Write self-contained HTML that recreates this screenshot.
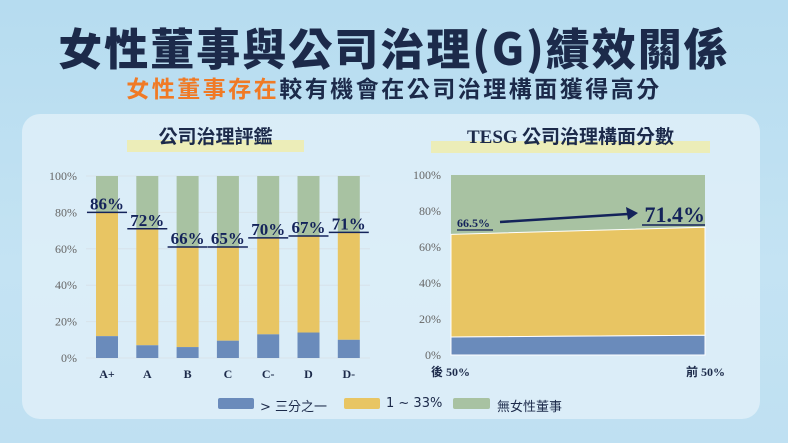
<!DOCTYPE html>
<html><head><meta charset="utf-8"><style>
body{margin:0;width:788px;height:443px;overflow:hidden;background:linear-gradient(180deg,#b6dcf0 0%,#c4e3f3 60%,#bfe0f2 100%);font-family:"Liberation Sans","Noto Sans CJK TC",sans-serif;position:relative}
.abs{position:absolute}
</style></head><body>
<div class="abs" style="left:0;width:788px;top:20px;text-align:center;font-size:44px;font-weight:900;color:#1c2a4a;font-family:'Noto Sans CJK TC',sans-serif;line-height:52px;letter-spacing:2px">女性董事與公司治理(G)績效關係</div>
<div class="abs" style="left:0;width:788px;top:71px;text-align:center;font-size:23px;font-weight:700;color:#1c2a4a;font-family:'Noto Sans CJK TC',sans-serif;line-height:32px;letter-spacing:2.5px"><span style="color:#f07a25">女性董事存在</span>較有機會在公司治理構面獲得高分</div>
<div class="abs" style="left:22px;top:114px;width:738px;height:305px;border-radius:18px;background:rgba(225,240,249,0.8)"></div>
<div class="abs" style="left:127px;top:140px;width:177px;height:12px;background:#ecedb8"></div>
<div class="abs" style="left:127px;width:177px;top:122px;text-align:center;font-size:19px;font-weight:700;color:#1c2a4a;font-family:'Noto Sans CJK TC',sans-serif;line-height:28px">公司治理評鑑</div>
<div class="abs" style="left:431px;top:141px;width:279px;height:12px;background:#ecedb8"></div>
<div class="abs" style="left:431px;width:279px;top:122px;text-align:center;font-size:19px;font-weight:700;color:#1c2a4a;font-family:'Noto Sans CJK TC',sans-serif;line-height:28px"><span style="font-family:'Liberation Serif',serif">TESG</span> 公司治理構面分數</div>
<svg class="abs" style="left:0;top:0" width="788" height="443" id="svg"></svg>
<div class="abs" style="left:0;top:396px;font-size:13px;color:#1c2a4a;font-family:'DejaVu Sans','Noto Sans CJK TC',sans-serif">
<div class="abs" style="left:218px;top:2px;width:36px;height:11px;background:#6a8bbb;border-radius:2px"></div>
<div class="abs" style="left:260px;top:0;white-space:nowrap">&gt; 三分之一</div>
<div class="abs" style="left:344px;top:2px;width:36px;height:11px;background:#e8c563;border-radius:2px"></div>
<div class="abs" style="left:386px;top:0;white-space:nowrap">1 ~ 33%</div>
<div class="abs" style="left:453px;top:2px;width:37px;height:11px;background:#a8c2a2;border-radius:2px"></div>
<div class="abs" style="left:497px;top:0;white-space:nowrap">無女性董事</div>
</div>
<script>
const categories=["A+","A","B","C","C-","D","D-"];
const blueVals=[12,7,6,9.5,13,14,10];
const yellowTops=[80,71,61,61,66,67,69];
const labels=["86%","72%","66%","65%","70%","67%","71%"];
const yTicks=[0,20,40,60,80,100];
const areaCats=["後 50%","前 50%"];
const areaBlue=[10,11];
const areaYellowTop=[67,71];
const areaLabels=["66.5%","71.4%"];
const NS="http://www.w3.org/2000/svg";
const svg=document.getElementById('svg');
function mk(t,a,txt){const e=document.createElementNS(NS,t);for(const k in a)e.setAttribute(k,a[k]);if(txt!=null)e.textContent=txt;svg.appendChild(e);return e;}
const ly=v=>358-v*1.82;
const lx=i=>107+i*40.3;
yTicks.forEach(t=>{
 const g=mk('line',{x1:86,x2:370,y1:ly(t),y2:ly(t),stroke:'#d8e2ea','stroke-width':1});
 
 const l=mk('text',{x:77,y:ly(t)+4,'text-anchor':'end','font-size':12,fill:'#666','font-family':'Liberation Serif,serif'},t+'%');
 
});
categories.forEach((c,i)=>{
 const x=lx(i)-11,w=22;
 let r=mk('rect',{x:x,y:ly(100),width:w,height:ly(yellowTops[i])-ly(100),fill:'#a8c2a2'});
 
 r=mk('rect',{x:x,y:ly(yellowTops[i]),width:w,height:ly(blueVals[i])-ly(yellowTops[i]),fill:'#e8c563'});
 
 r=mk('rect',{x:x,y:ly(blueVals[i]),width:w,height:ly(0)-ly(blueVals[i]),fill:'#6a8bbb'});
 
 const ty=ly(yellowTops[i])-3;
 const t=mk('text',{x:lx(i),y:ty,'text-anchor':'middle','font-size':17,'font-weight':'bold',fill:'#14235a','font-family':'Liberation Serif,serif'},labels[i]);
 
 const u=mk('line',{x1:lx(i)-20,x2:lx(i)+20,y1:ty+3,y2:ty+3,stroke:'#14235a','stroke-width':1.5});
 
 const xl=mk('text',{x:lx(i),y:378,'text-anchor':'middle','font-size':12,'font-weight':'bold',fill:'#1c2a4a','font-family':'Liberation Serif,serif'},c);
 
});
const ry=v=>355-v*1.8;
const rx=i=>451+i*254;
yTicks.forEach(t=>{
 const l=mk('text',{x:441,y:ry(t)+4,'text-anchor':'end','font-size':12,fill:'#666','font-family':'Liberation Serif,serif'},t+'%');
 
});
let p=mk('polygon',{points:`${rx(0)},${ry(100)} ${rx(1)},${ry(100)} ${rx(1)},${ry(areaYellowTop[1])} ${rx(0)},${ry(areaYellowTop[0])}`,fill:'#a8c2a2'});

p=mk('polygon',{points:`${rx(0)},${ry(areaYellowTop[0])} ${rx(1)},${ry(areaYellowTop[1])} ${rx(1)},${ry(areaBlue[1])} ${rx(0)},${ry(areaBlue[0])}`,fill:'#e8c563',stroke:'#fff','stroke-width':1});

p=mk('polygon',{points:`${rx(0)},${ry(areaBlue[0])} ${rx(1)},${ry(areaBlue[1])} ${rx(1)},${ry(0)} ${rx(0)},${ry(0)}`,fill:'#6a8bbb',stroke:'#fff','stroke-width':1});

areaCats.forEach((c,i)=>{
 const t=mk('text',{x:i?rx(i)+20:rx(i)-20,y:376,'text-anchor':i?'end':'start','font-size':12,'font-weight':'bold',fill:'#1c2a4a','font-family':'Liberation Serif,Noto Sans CJK TC,serif'},c);
 
});
let t=mk('text',{x:457,y:227,'font-size':12,'font-weight':'bold',fill:'#14235a','font-family':'Liberation Serif,serif'},areaLabels[0]);

t=mk('line',{x1:457,x2:493,y1:230,y2:230,stroke:'#14235a','stroke-width':1.2});
t=mk('text',{x:705,y:222,'text-anchor':'end','font-size':22,'font-weight':'bold',fill:'#14235a','font-family':'Liberation Serif,serif'},areaLabels[1]);

t=mk('line',{x1:642,x2:705,y1:225,y2:225,stroke:'#14235a','stroke-width':1.5});
t=mk('line',{x1:500,x2:628,y1:222,y2:214,stroke:'#14235a','stroke-width':2.5});
t=mk('polygon',{points:'638,213 626,207 628,220',fill:'#14235a'});
</script>
</body></html>
